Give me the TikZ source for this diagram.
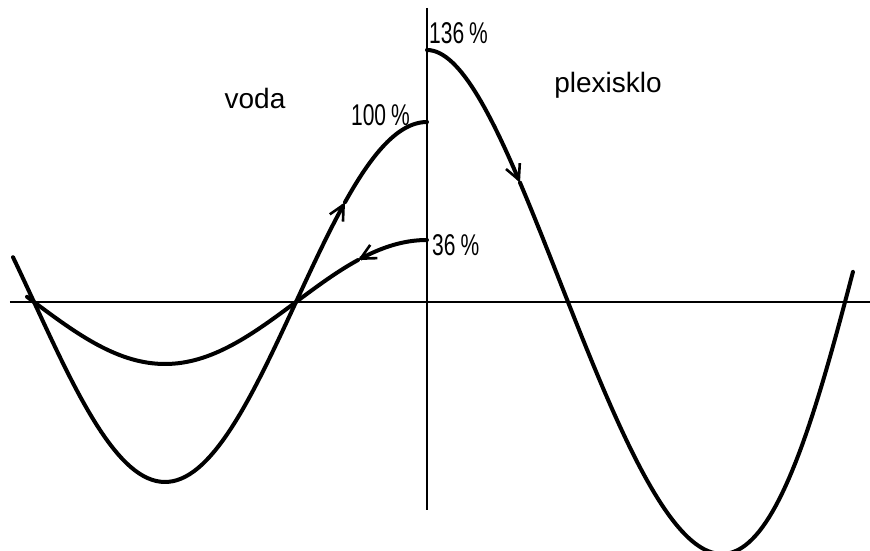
\documentclass[tikz,border=0pt]{standalone}
\usepackage{fontspec}
\setmainfont{Liberation Sans}
\newfontfamily\narrowfont[FakeStretch=0.7]{Liberation Sans}
\usetikzlibrary{arrows.meta}
\begin{document}
\begin{tikzpicture}[
  x=1pt, y=1pt,
  axis/.style={line width=1.8pt},
  wave/.style={line width=4pt,line cap=round},
  barb/.style={wave,-{Straight Barb[length=15pt,width=15pt,line width=2.6pt]}},
  word/.style={font=\fontsize{28}{30}\selectfont,inner sep=0pt},
  pct/.style={font=\fontsize{30}{32}\selectfont\narrowfont,inner sep=0pt}]
\useasboundingbox (-427,-249) rectangle (443,302);
\draw[axis] (-417,0) -- (443,0);
\draw[axis] (0,294) -- (0,-208);
% incident wave (voda)
\draw[barb] plot[domain=-414:-82,samples=80] (\x,{180*cos(0.68702*\x)});
\draw[wave] plot[domain=-82:0,samples=30] (\x,{180*cos(0.68702*\x)});
% reflected wave
\draw[barb] plot[domain=0:69,samples=30] ({-\x},{62*cos(0.68702*\x)});
\draw[wave] plot[domain=69:400,samples=80] ({-\x},{62*cos(0.68702*\x)});
% transmitted wave (plexisklo), u = x/100
\draw[barb] plot[domain=0:0.93,samples=30]
  ({100*\x},{252*cos(73.5143*\x-9.2783*\x*\x+1.7091*\x*\x*\x)});
\draw[wave] plot[domain=0.93:4.26,samples=100]
  ({100*\x},{252*cos(73.5143*\x-9.2783*\x*\x+1.7091*\x*\x*\x)});
\node[word] (voda) at (-172,204) {voda};
\node[word] (plexi) at (181,217) {plexisklo};
\node[pct,anchor=east] (p100) at (-17,187) {100\,\%};
\node[pct,anchor=west] (p136) at (2,269) {136\,\%};
\node[pct,anchor=west] (p36) at (5,57) {36\,\%};
\end{tikzpicture}
\end{document}
